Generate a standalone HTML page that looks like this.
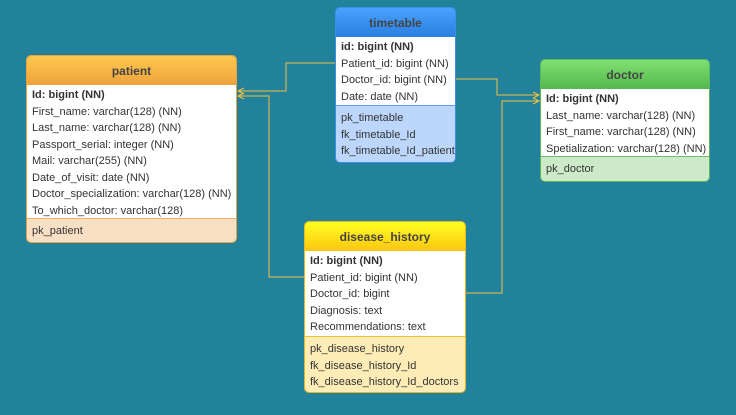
<!DOCTYPE html>
<html><head><style>
body{margin:0;width:736px;height:415px;background:#23829b;position:relative;overflow:hidden;font-family:"Liberation Sans",sans-serif;}
.t{position:absolute;border-radius:5px;overflow:hidden;border:1px solid;box-sizing:border-box;}
.h{height:29px;line-height:30px;text-align:center;font-weight:bold;font-size:12px;color:#444;}
.b{background:#fff;padding:2px 0 2px 5px;font-size:11px;color:#333;box-sizing:border-box;}
.r{height:16.5px;line-height:16.5px;white-space:nowrap;}
.k{padding:4px 0 3px 5px;font-size:11px;color:#333;border-top:1px solid;box-sizing:border-box;}
svg{position:absolute;left:0;top:0}
</style></head><body>
<svg width="736" height="415">
<g fill="none" stroke-width="1" stroke="#f0c040">
<polyline points="335,63 286,63 286,91 238,91"/>
<polyline points="304,277 269,277 269,96 238,96"/>
<polyline points="455,79 497,79 497,95 539,95"/>
<polyline points="465,293 502,293 502,101 539,101"/>
<path d="M244,88 L238,91 L244,94 M244,93 L238,96 L244,99 M533,92 L539,95 L533,98 M533,98 L539,101 L533,104"/>
</g>
</svg>
<div class="t" style="left:26px;top:55px;width:211px;height:188px;border-color:#e8a33c;">
<div class="h" style="background:linear-gradient(#fdc94f,#f0a23c);">patient</div>
<div class="b" style="height:133px"><div class="r"><b>Id: bigint (NN)</b></div><div class="r">First_name: varchar(128) (NN)</div><div class="r">Last_name: varchar(128) (NN)</div><div class="r">Passport_serial: integer (NN)</div><div class="r">Mail: varchar(255) (NN)</div><div class="r">Date_of_visit: date (NN)</div><div class="r">Doctor_specialization: varchar(128) (NN)</div><div class="r">To_which_doctor: varchar(128)</div></div>
<div class="k" style="background:#f9dfc3;border-color:#f0b060;height:30px;"><div class="r">pk_patient</div></div>
</div>
<div class="t" style="left:335px;top:7px;width:121px;height:156px;border-color:#3d8ee8;">
<div class="h" style="background:linear-gradient(#4aa2ff,#2a7fe0);">timetable</div>
<div class="b" style="height:68px"><div class="r"><b>id: bigint (NN)</b></div><div class="r">Patient_id: bigint (NN)</div><div class="r">Doctor_id: bigint (NN)</div><div class="r">Date: date (NN)</div></div>
<div class="k" style="background:#bcd7fb;border-color:#5a9ef0;height:60px;"><div class="r">pk_timetable</div><div class="r">fk_timetable_Id</div><div class="r">fk_timetable_Id_patient</div></div>
</div>
<div class="t" style="left:540px;top:59px;width:170px;height:123px;border-color:#5cb85c;">
<div class="h" style="background:linear-gradient(#7ee070,#55b84e);">doctor</div>
<div class="b" style="height:67px"><div class="r"><b>Id: bigint (NN)</b></div><div class="r">Last_name: varchar(128) (NN)</div><div class="r">First_name: varchar(128) (NN)</div><div class="r">Spetialization: varchar(128) (NN)</div></div>
<div class="k" style="background:#cdeac8;border-color:#6cc06c;height:28px;"><div class="r">pk_doctor</div></div>
</div>
<div class="t" style="left:304px;top:221px;width:162px;height:172px;border-color:#e8b820;">
<div class="h" style="background:linear-gradient(#ffff20,#fbc510);">disease_history</div>
<div class="b" style="height:85px"><div class="r"><b>Id: bigint (NN)</b></div><div class="r">Patient_id: bigint (NN)</div><div class="r">Doctor_id: bigint</div><div class="r">Diagnosis: text</div><div class="r">Recommendations: text</div></div>
<div class="k" style="background:#feecb6;border-color:#f0c030;height:60px;"><div class="r">pk_disease_history</div><div class="r">fk_disease_history_Id</div><div class="r">fk_disease_history_Id_doctors</div></div>
</div>
</body></html>
